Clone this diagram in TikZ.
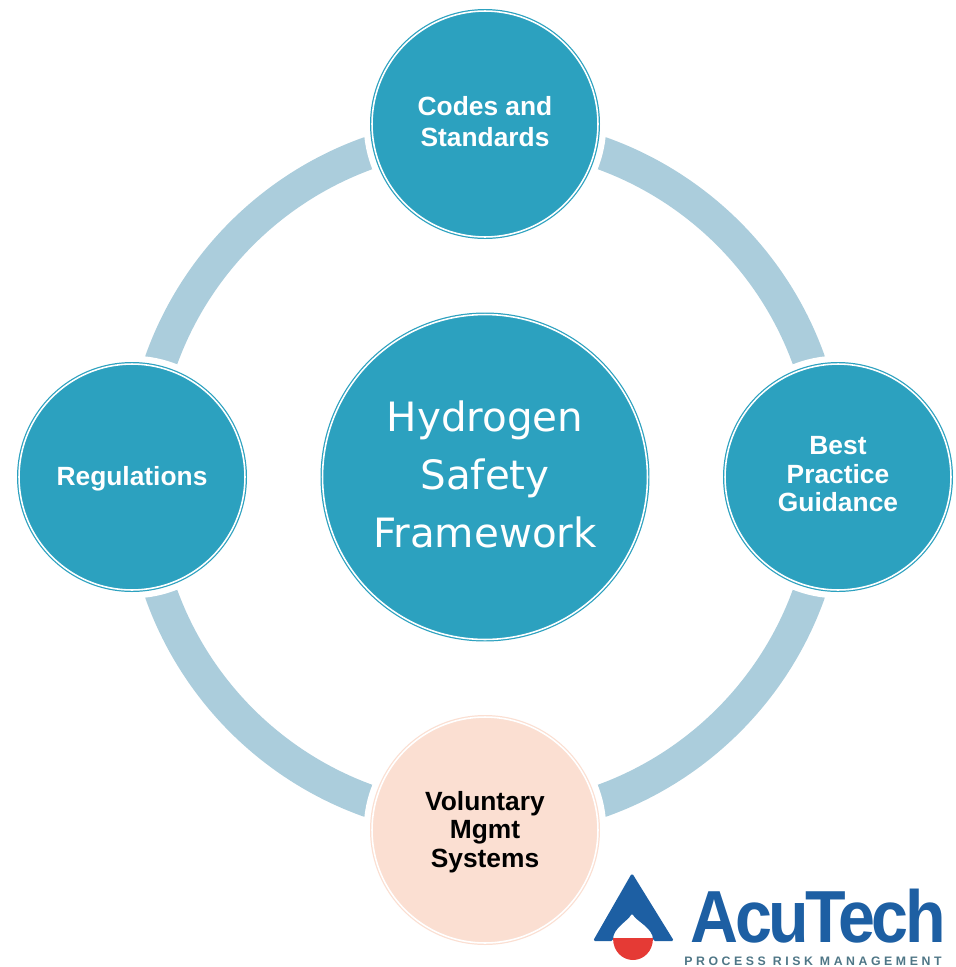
\documentclass[tikz,border=0pt]{standalone}
\usepackage{fontspec}
\setmainfont{Liberation Sans}
\newfontfamily\hubfont{DejaVu Sans}
\newfontfamily\tagfont[LetterSpace=29]{Liberation Sans}
\newfontfamily\logofont[LetterSpace=-5]{Liberation Sans}
\usetikzlibrary{backgrounds}
\definecolor{tealc}{HTML}{2CA1BF}
\definecolor{ringc}{HTML}{ABCDDC}
\definecolor{peachc}{HTML}{FBDFD2}
\definecolor{logob}{HTML}{1D5FA3}
\definecolor{logor}{HTML}{E53A35}
\definecolor{logot}{HTML}{4F7686}
\newcommand{\DN}[1]{\raisebox{-1.2pt}[\height][\depth]{#1}}
\tikzset{
    CC1/.style ={circle,minimum size = 4.52cm,inner sep=0pt,outer sep=0pt,draw=tealc,fill=tealc,line width=.7pt,double=white,double distance=.9pt,text=white,align=center,font=\bfseries\fontsize{15}{16.3}\selectfont,preaction={draw=white,line width=9.5pt}},
    CC2/.style ={CC1,draw=peachc,fill=peachc,text=black},
    CC3/.style ={CC1,minimum size = 6.5cm,font=\hubfont\fontsize{23}{33}\selectfont},
    RI/.style ={ringc,line width=18.7pt,bend left=45}}
\begin{document}
\begin{tikzpicture}[x=.02cm,y=-.02cm]
        \useasboundingbox (0,0) rectangle (956,967);
        \node[CC3] (0) at(485,477){Hydrogen\\Safety\\Framework\\[-30pt]\mbox{}};
        \node[CC1] (1) at(485,124){Codes and\\[1.5pt]Standards\\[-13pt]\mbox{}};
        \node[CC1] (2) at(838,477){Best\\Practice\\Guidance\\[-13pt]\mbox{}};
        \node[CC2] (3) at(485,830){\DN{Voluntary}\\\DN{Mgmt}\\\DN{Systems}};
        \node[CC1] (4) at(132,477){\DN{Regulations}};
        \begin{scope}[on background layer]
            \draw[RI] ([yshift=-.18cm]1.center) to ([xshift=-.18cm]2.center);
            \draw[RI] ([xshift=-.18cm]2.center) to ([yshift=.18cm]3.center);
            \draw[RI] ([yshift=.18cm]3.center) to ([xshift=.18cm]4.center);
            \draw[RI] ([xshift=.18cm]4.center) to ([yshift=-.18cm]1.center);
        \end{scope}
        \fill[logob,rounded corners=1pt] (632,873) -- (674,941) -- (653,941) .. controls (653,928) and (636,921) .. (632,913) .. controls (628,921) and (613,928) .. (613,941) -- (593,941) -- cycle;
        \fill[logor] (613,938) -- (653,938) .. controls (653,952) and (643,960) .. (633,960) .. controls (623,960) and (613,952) .. (613,938) -- cycle;
        \node[logob,font=\logofont\bfseries\fontsize{42}{42}\selectfont,xscale=.9,inner sep=0pt,anchor=base west] (5) at(690,942){AcuTech};
        \node[logot,font=\tagfont\bfseries\fontsize{7}{8}\selectfont,inner sep=0pt,anchor=base west] (6) at(684,965){PROCESS RISK MANAGEMENT};
    \end{tikzpicture}
\end{document}
